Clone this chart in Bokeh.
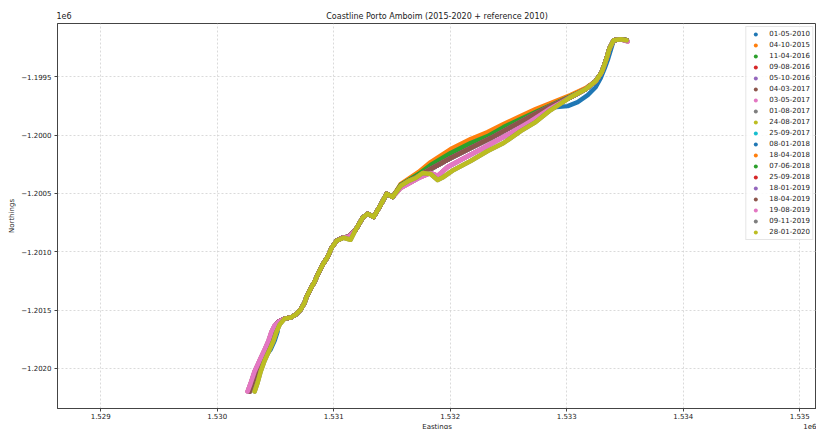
from bokeh.plotting import figure
from bokeh.models import (FixedTicker, CustomJSTickFormatter, Legend, LegendItem,
                          LinearAxis, Range1d)
from bokeh.embed import file_html
from bokeh.resources import INLINE

# ---------------- data ----------------
title_text = "Coastline Porto Amboim (2015-2020 + reference 2010)"
x_label = "Eastings"
y_label = "Northings"
offset_text = "1e6"

dates = ["01-05-2010", "04-10-2015", "11-04-2016", "09-08-2016", "05-10-2016",
         "04-03-2017", "03-05-2017", "01-08-2017", "24-08-2017", "25-09-2017",
         "08-01-2018", "18-04-2018", "07-06-2018", "25-09-2018", "18-01-2019",
         "18-04-2019", "19-08-2019", "09-11-2019", "28-01-2020"]

x_ticks = [1529000, 1530000, 1531000, 1532000, 1533000, 1534000, 1535000]
y_ticks = [-1202000, -1201500, -1201000, -1200500, -1200000, -1199500]

# consensus coastline (2015-2017 surveys)
base_e = [1530278, 1530304, 1530338, 1530381, 1530424, 1530458, 1530484, 1530501, 1530527, 1530579,
          1530630, 1530673, 1530716, 1530750, 1530767, 1530802, 1530836, 1530870, 1530905, 1530948,
          1530982, 1531025, 1531076, 1531128, 1531188, 1531248, 1531291, 1531343, 1531403, 1531454,
          1531506, 1531574, 1531643, 1531729, 1531832, 1532004, 1532175, 1532347, 1532519, 1532690,
          1532862, 1533033, 1533162, 1533248, 1533300, 1533334, 1533368, 1533403, 1533463, 1533514]
base_n = [-1202197, -1202128, -1202026, -1201932, -1201838, -1201761, -1201684, -1201632, -1201598, -1201573,
          -1201564, -1201538, -1201496, -1201436, -1201385, -1201316, -1201256, -1201179, -1201111, -1201043,
          -1200966, -1200906, -1200880, -1200872, -1200812, -1200709, -1200675, -1200701, -1200598, -1200504,
          -1200530, -1200436, -1200393, -1200350, -1200291, -1200197, -1200111, -1200026, -1199932, -1199838,
          -1199752, -1199675, -1199607, -1199538, -1199462, -1199368, -1199256, -1199188, -1199179, -1199188]

# reference 2010
ref2010_e = [1530278, 1530304, 1530338, 1530381, 1530458, 1530493, 1530518, 1530501, 1530527, 1530579,
             1530630, 1530673, 1530716, 1530750, 1530767, 1530802, 1530836, 1530870, 1530905, 1530948,
             1530982, 1531025, 1531076, 1531128, 1531188, 1531248, 1531291, 1531343, 1531403, 1531454,
             1531506, 1531574, 1531643, 1531729, 1531832, 1532004, 1532175, 1532347, 1532519, 1532690,
             1532802, 1532888, 1533008, 1533094, 1533180, 1533248, 1533291, 1533326, 1533351, 1533377,
             1533403, 1533463, 1533514]
ref2010_n = [-1202197, -1202128, -1202026, -1201932, -1201838, -1201761, -1201684, -1201632, -1201598, -1201573,
             -1201564, -1201538, -1201496, -1201436, -1201385, -1201316, -1201256, -1201179, -1201111, -1201043,
             -1200966, -1200906, -1200880, -1200872, -1200812, -1200709, -1200675, -1200701, -1200598, -1200504,
             -1200530, -1200436, -1200393, -1200350, -1200291, -1200197, -1200111, -1200026, -1199932, -1199838,
             -1199786, -1199761, -1199752, -1199718, -1199658, -1199590, -1199513, -1199427, -1199359, -1199274,
             -1199188, -1199179, -1199188]

# April 2018 survey (most seaward band in the middle stretch)
s2018_e = [1530278, 1530304, 1530338, 1530381, 1530424, 1530458, 1530484, 1530501, 1530527, 1530579,
           1530630, 1530673, 1530716, 1530750, 1530767, 1530802, 1530836, 1530870, 1530905, 1530948,
           1530982, 1531025, 1531076, 1531128, 1531188, 1531248, 1531291, 1531343, 1531403, 1531454,
           1531506, 1531574, 1531729, 1531832, 1532004, 1532175, 1532321, 1532458, 1532604, 1532733,
           1532862, 1533033, 1533162, 1533248, 1533300, 1533334, 1533368, 1533403, 1533463, 1533514]
s2018_n = [-1202197, -1202128, -1202026, -1201932, -1201838, -1201761, -1201684, -1201632, -1201598, -1201573,
           -1201564, -1201538, -1201496, -1201436, -1201385, -1201316, -1201256, -1201179, -1201111, -1201043,
           -1200966, -1200906, -1200880, -1200872, -1200812, -1200709, -1200675, -1200701, -1200598, -1200504,
           -1200530, -1200420, -1200316, -1200231, -1200120, -1200034, -1199974, -1199906, -1199838, -1199778,
           -1199726, -1199658, -1199598, -1199538, -1199462, -1199368, -1199256, -1199188, -1199179, -1199188]

# June 2018 survey
s2018b_e = [1530278, 1530304, 1530338, 1530381, 1530424, 1530458, 1530484, 1530501, 1530527, 1530579,
            1530630, 1530673, 1530716, 1530750, 1530767, 1530802, 1530836, 1530870, 1530905, 1530948,
            1530982, 1531025, 1531076, 1531128, 1531188, 1531248, 1531291, 1531343, 1531403, 1531454,
            1531506, 1531574, 1531729, 1531832, 1532004, 1532175, 1532321, 1532458, 1532604, 1532733,
            1532862, 1533033, 1533162, 1533248, 1533300, 1533334, 1533368, 1533403, 1533463, 1533514]
s2018b_n = [-1202197, -1202128, -1202026, -1201932, -1201838, -1201761, -1201684, -1201632, -1201598, -1201573,
            -1201564, -1201538, -1201496, -1201436, -1201385, -1201316, -1201256, -1201179, -1201111, -1201043,
            -1200966, -1200906, -1200880, -1200872, -1200812, -1200709, -1200675, -1200701, -1200598, -1200504,
            -1200530, -1200427, -1200333, -1200256, -1200154, -1200068, -1200009, -1199932, -1199863, -1199803,
            -1199744, -1199667, -1199607, -1199538, -1199462, -1199368, -1199256, -1199188, -1199179, -1199188]

# 2019 / 2017 surveys (landward band)
s2019_e = [1530261, 1530287, 1530321, 1530364, 1530407, 1530441, 1530467, 1530493, 1530527, 1530579,
           1530630, 1530673, 1530716, 1530750, 1530767, 1530802, 1530836, 1530870, 1530905, 1530948,
           1530982, 1531025, 1531076, 1531128, 1531188, 1531248, 1531291, 1531343, 1531403, 1531454,
           1531506, 1531574, 1531729, 1531832, 1531892, 1531978, 1532089, 1532218, 1532347, 1532519,
           1532690, 1532862, 1533033, 1533162, 1533248, 1533300, 1533334, 1533368, 1533403, 1533463,
           1533523]
s2019_n = [-1202197, -1202128, -1202026, -1201932, -1201838, -1201761, -1201684, -1201632, -1201598, -1201573,
           -1201564, -1201538, -1201496, -1201436, -1201385, -1201316, -1201256, -1201179, -1201111, -1201043,
           -1200966, -1200906, -1200880, -1200872, -1200812, -1200709, -1200675, -1200701, -1200598, -1200504,
           -1200530, -1200453, -1200368, -1200325, -1200350, -1200274, -1200214, -1200145, -1200077, -1199983,
           -1199880, -1199769, -1199675, -1199607, -1199538, -1199462, -1199368, -1199256, -1199188, -1199179,
           -1199197]

# late 2019 / 2020 surveys
s2020_e = [1530321, 1530347, 1530373, 1530407, 1530450, 1530484, 1530510, 1530536, 1530579, 1530630,
           1530673, 1530716, 1530750, 1530767, 1530802, 1530836, 1530870, 1530905, 1530948, 1530982,
           1531025, 1531085, 1531145, 1531188, 1531248, 1531291, 1531343, 1531403, 1531454, 1531506,
           1531574, 1531643, 1531703, 1531763, 1531832, 1531892, 1531943, 1532029, 1532175, 1532321,
           1532458, 1532604, 1532733, 1532862, 1533033, 1533162, 1533248, 1533300, 1533334, 1533368,
           1533403, 1533463, 1533514]
s2020_n = [-1202197, -1202120, -1202026, -1201932, -1201838, -1201761, -1201684, -1201624, -1201573, -1201564,
           -1201538, -1201496, -1201436, -1201385, -1201316, -1201256, -1201179, -1201111, -1201043, -1200966,
           -1200906, -1200880, -1200897, -1200812, -1200709, -1200675, -1200701, -1200598, -1200504, -1200530,
           -1200436, -1200393, -1200368, -1200325, -1200333, -1200385, -1200359, -1200299, -1200222, -1200137,
           -1200068, -1199966, -1199889, -1199786, -1199675, -1199607, -1199538, -1199462, -1199368, -1199256,
           -1199188, -1199179, -1199188]

paths = {
    "ref2010": (ref2010_e, ref2010_n),
    "base": (base_e, base_n),
    "s2018": (s2018_e, s2018_n),
    "s2018b": (s2018b_e, s2018b_n),
    "s2019": (s2019_e, s2019_n),
    "s2020": (s2020_e, s2020_n),
}
survey_path = ["ref2010", "base", "base", "base", "base",
               "s2019", "s2019", "base", "base", "base",
               "base", "s2018", "s2018b", "base", "base",
               "base", "s2019", "s2020", "s2020"]

tab10 = ["#1f77b4", "#ff7f0e", "#2ca02c", "#d62728", "#9467bd",
         "#8c564b", "#e377c2", "#7f7f7f", "#bcbd22", "#17becf"]

FONT = "DejaVu Sans"
TXT = "#222222"

# ---------------- figure ----------------
X0, X1 = 1528629, 1535144
Y0, Y1 = -1202343, -1199044
p = figure(width=816, height=433, output_backend="svg", toolbar_location=None,
           x_range=Range1d(X0, X1), y_range=Range1d(Y0, Y1),
           min_border_left=57, min_border_right=0, min_border_top=23, min_border_bottom=24)

p.outline_line_color = "#444444"
p.outline_line_width = 1

p.xaxis.ticker = FixedTicker(ticks=x_ticks)
p.yaxis.ticker = FixedTicker(ticks=y_ticks)
p.xaxis.formatter = CustomJSTickFormatter(code="return (tick/1e6).toFixed(3);")
p.yaxis.formatter = CustomJSTickFormatter(
    code="return (tick/1e6).toFixed(4).replace('-', '\u2212');")
p.yaxis.axis_label = y_label
for ax in (p.xaxis, p.yaxis):
    ax.major_label_text_font = FONT
    ax.major_label_text_font_size = "7px"
    ax.major_label_text_color = TXT
    ax.axis_label_text_font = FONT
    ax.axis_label_text_font_size = "7px"
    ax.axis_label_text_font_style = "normal"
    ax.axis_label_text_color = TXT
    ax.axis_line_color = "#444444"
    ax.major_tick_line_color = "#444444"
    ax.major_tick_out = 3
    ax.major_tick_in = 0
    ax.minor_tick_out = 0
    ax.minor_tick_in = 0
    ax.major_label_standoff = 2
    ax.axis_label_standoff = 2
p.xaxis.major_label_standoff = 1
p.yaxis.major_label_standoff = 3

# text-only axes: title + "1e6" above, "Eastings" + "1e6" below (same rows as in the reference)
x_mid = (X0 + X1) / 2
top_pos = [x_mid, X0 + 56]
bot_pos = [x_mid, X1 - 30]


def text_axis(positions, labels, size, standoff):
    ax = LinearAxis(ticker=FixedTicker(ticks=positions),
                    formatter=CustomJSTickFormatter(
                        args=dict(pos=positions, labs=labels),
                        code="for (let k = 0; k < pos.length; k++) {"
                             " if (Math.abs(pos[k] - tick) < 1) return labs[k]; }"
                             " return '';"))
    ax.axis_line_color = None
    ax.major_tick_line_color = None
    ax.minor_tick_line_color = None
    ax.major_tick_out = 0
    ax.major_tick_in = 0
    ax.major_label_standoff = standoff
    ax.major_label_text_font = FONT
    ax.major_label_text_font_size = size
    ax.major_label_text_color = TXT
    return ax


p.add_layout(text_axis(top_pos, [title_text, offset_text], "8px", 3), "above")
p.add_layout(text_axis(bot_pos, [x_label, offset_text], "7px", 1), "below")

p.grid.grid_line_color = "#d0d0d0"
p.grid.grid_line_dash = "2 2"
p.grid.grid_line_width = 0.8

items = []
for i, (d, key) in enumerate(zip(dates, survey_path)):
    e, n = paths[key]
    c = tab10[i % 10]
    p.line(e, n, line_color=c, line_width=4.5, line_join="round", line_cap="round")
    r = p.scatter(e, n, size=3, fill_color=c, line_color=None)
    items.append(LegendItem(label=d, renderers=[r]))

legend = Legend(items=items, location="top_right", margin=3, padding=2, spacing=1,
                label_height=10, glyph_height=10, glyph_width=14, label_standoff=7,
                label_text_font=FONT, label_text_font_size="7px",
                label_text_color=TXT,
                border_line_color="#cccccc", border_line_width=1,
                background_fill_color="white", background_fill_alpha=0.85)
p.add_layout(legend)

html = None
try:
    from bokeh.core.templates import get_env
    tpl = get_env().from_string(
        '{% extends "file.html" %}{% block preamble %}'
        '<style>html,body{overflow:hidden;}</style>{% endblock %}')
    html = file_html(p, INLINE, template=tpl)
except Exception:
    html = file_html(p, INLINE)
open("out.html", "w").write(html)
